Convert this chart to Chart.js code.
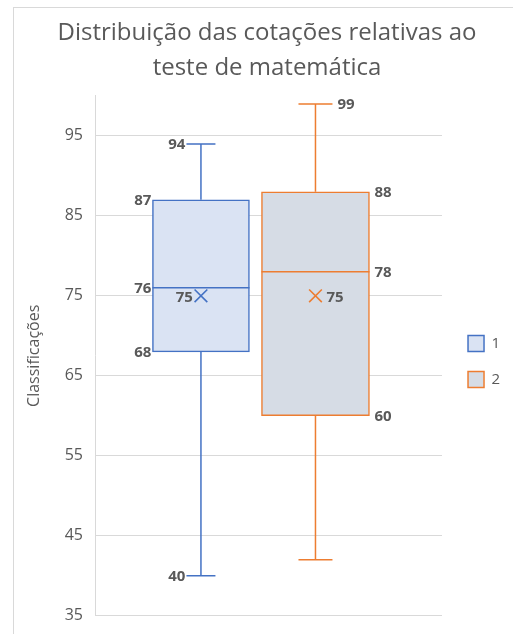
<!DOCTYPE html>
<html>
<head>
<meta charset="utf-8">
<script src="https://cdn.jsdelivr.net/npm/chart.js@4.4.1/dist/chart.umd.min.js"></script>
<style>
  html, body { margin: 0; padding: 0; background: #ffffff; }
  #wrap { width: 513px; height: 634px; position: relative; }
</style>
</head>
<body>
<div id="wrap"><canvas id="c" width="513" height="634"></canvas></div>
<script>
// ---------------- data ----------------
const categories = ['1', '2'];
const q1Values = [68, 60];
const medianValues = [76, 78];
const q3Values = [87, 88];
const minValues = [40, 42];
const maxValues = [94, 99];
const meanValues = [75, 75];
const xPositions = [1, 2];
const showMinLabel = [true, false];
const yTickValues = [35, 45, 55, 65, 75, 85, 95];
const titleLines = ['Distribuição das cotações relativas ao', 'teste de matemática'];
const yAxisTitle = 'Classificações';

// ---------------- styles ----------------
const FONT = '"Open Sans", "DejaVu Sans", sans-serif';
const TEXT = '#595959';
const GRID = '#d9d9d9';
const borderColors = ['#4472C4', '#ED7D31'];
const fillColors = ['#DAE3F3', '#D6DCE5'];
const boxPx = [97, 108];
const capPx = [29, 34];
const labelSide = ['left', 'right'];

const barDatasets = categories.map((c, i) => ({
  type: 'bar',
  label: c,
  data: [{ x: xPositions[i], y: [q1Values[i], q3Values[i]] }],
  backgroundColor: fillColors[i],
  borderColor: borderColors[i],
  borderWidth: 1.5,
  borderSkipped: false,
  barThickness: boxPx[i],
  grouped: false,
  order: 1
}));
const meanDatasets = categories.map((c, i) => ({
  type: 'scatter',
  label: 'mean ' + c,
  data: [{ x: xPositions[i], y: meanValues[i] }],
  pointStyle: 'crossRot',
  pointRadius: 9,
  pointBorderWidth: 1.6,
  borderColor: borderColors[i],
  backgroundColor: borderColors[i],
  order: 0
}));

const frame = {
  id: 'frame',
  beforeDraw(chart) {
    const ctx = chart.ctx;
    ctx.save();
    ctx.fillStyle = '#ffffff';
    ctx.fillRect(0, 0, chart.width, chart.height);
    ctx.strokeStyle = GRID;
    ctx.lineWidth = 1;
    ctx.strokeRect(13.5, 7.5, 700, 800);
    ctx.restore();
  }
};

const layoutTweak = {
  id: 'layoutTweak',
  afterLayout(chart) {
    const ca = chart.chartArea;
    const lg = chart.legend;
    if (lg) {
      lg.left = ca.right + 6; lg.right = lg.left + lg.width;
      lg.top = ca.top + 5.6; lg.bottom = ca.bottom + 5.6;
    }
    const tb = chart.titleBlock;
    if (tb) { tb.left += 4.5; tb.right += 4.5; }
  }
};

const boxExtras = {
  id: 'boxExtras',
  afterDatasetsDraw(chart) {
    const ctx = chart.ctx;
    const xs = chart.scales.x, ys = chart.scales.y;
    ctx.save();
    categories.forEach((c, i) => {
      const cx = xs.getPixelForValue(xPositions[i]);
      const half = boxPx[i] / 2, capHalf = capPx[i] / 2;
      const yMin = ys.getPixelForValue(minValues[i]);
      const yMax = ys.getPixelForValue(maxValues[i]);
      const yQ1 = ys.getPixelForValue(q1Values[i]);
      const yQ3 = ys.getPixelForValue(q3Values[i]);
      const yMed = ys.getPixelForValue(medianValues[i]);
      const yMean = ys.getPixelForValue(meanValues[i]);
      ctx.strokeStyle = borderColors[i];
      ctx.lineWidth = 1.5;
      ctx.beginPath();
      ctx.moveTo(cx, yQ3); ctx.lineTo(cx, yMax);
      ctx.moveTo(cx - capHalf, yMax); ctx.lineTo(cx + capHalf, yMax);
      ctx.moveTo(cx, yQ1); ctx.lineTo(cx, yMin);
      ctx.moveTo(cx - capHalf, yMin); ctx.lineTo(cx + capHalf, yMin);
      ctx.moveTo(cx - half, yMed); ctx.lineTo(cx + half, yMed);
      ctx.stroke();

      ctx.fillStyle = TEXT;
      ctx.font = 'bold 15px ' + FONT;
      ctx.textBaseline = 'middle';
      const left = labelSide[i] === 'left';
      ctx.textAlign = left ? 'right' : 'left';
      const capX = left ? cx - capHalf - 1 : cx + capHalf + 5;
      const boxX = left ? cx - half - 1 : cx + half + 5;
      const meanX = left ? cx - 8 : cx + 11;
      ctx.fillText(String(maxValues[i]), capX, yMax + 1);
      if (showMinLabel[i]) ctx.fillText(String(minValues[i]), capX, yMin + 1);
      ctx.fillText(String(q3Values[i]), boxX, yQ3 + 1);
      ctx.fillText(String(medianValues[i]), boxX, yMed + 1);
      ctx.fillText(String(q1Values[i]), boxX, yQ1 + 1);
      ctx.fillText(String(meanValues[i]), meanX, yMean + 1.5);
    });
    ctx.restore();
  }
};

new Chart(document.getElementById('c'), {
  type: 'bar',
  data: { datasets: [...barDatasets, ...meanDatasets] },
  options: {
    responsive: false,
    animation: false,
    devicePixelRatio: 1,
    layout: { padding: { left: 20.9, right: 8.9, top: 0, bottom: 18.3 } },
    plugins: {
      tooltip: { enabled: false },
      title: {
        display: true,
        text: titleLines,
        color: TEXT,
        font: { family: FONT, size: 24, weight: 'normal', lineHeight: '34.5px' },
        padding: { top: 16, bottom: 10.9 }
      },
      legend: {
        display: true,
        position: 'right',
        align: 'center',
        labels: {
          filter: (item) => item.datasetIndex < categories.length,
          boxWidth: 16,
          boxHeight: 16,
          padding: 20,
          color: TEXT,
          font: { family: FONT, size: 15 }
        }
      }
    },
    scales: {
      x: {
        type: 'linear',
        display: false,
        offset: false,
        min: 0.0836,
        max: 3.105
      },
      y: {
        type: 'linear',
        min: 35,
        max: 100,
        afterBuildTicks: (s) => { s.ticks = yTickValues.map(v => ({ value: v })); },
        ticks: { color: TEXT, font: { family: FONT, size: 16, lineHeight: 0.65 }, padding: 13 },
        grid: { color: GRID, lineWidth: 1, drawTicks: false },
        border: { display: true, color: GRID, width: 1 },
        title: {
          display: true,
          text: yAxisTitle,
          color: TEXT,
          font: { family: FONT, size: 16 },
          padding: { top: 4, bottom: 7.6 }
        }
      }
    }
  },
  plugins: [frame, layoutTweak, boxExtras]
});
</script>
</body>
</html>
